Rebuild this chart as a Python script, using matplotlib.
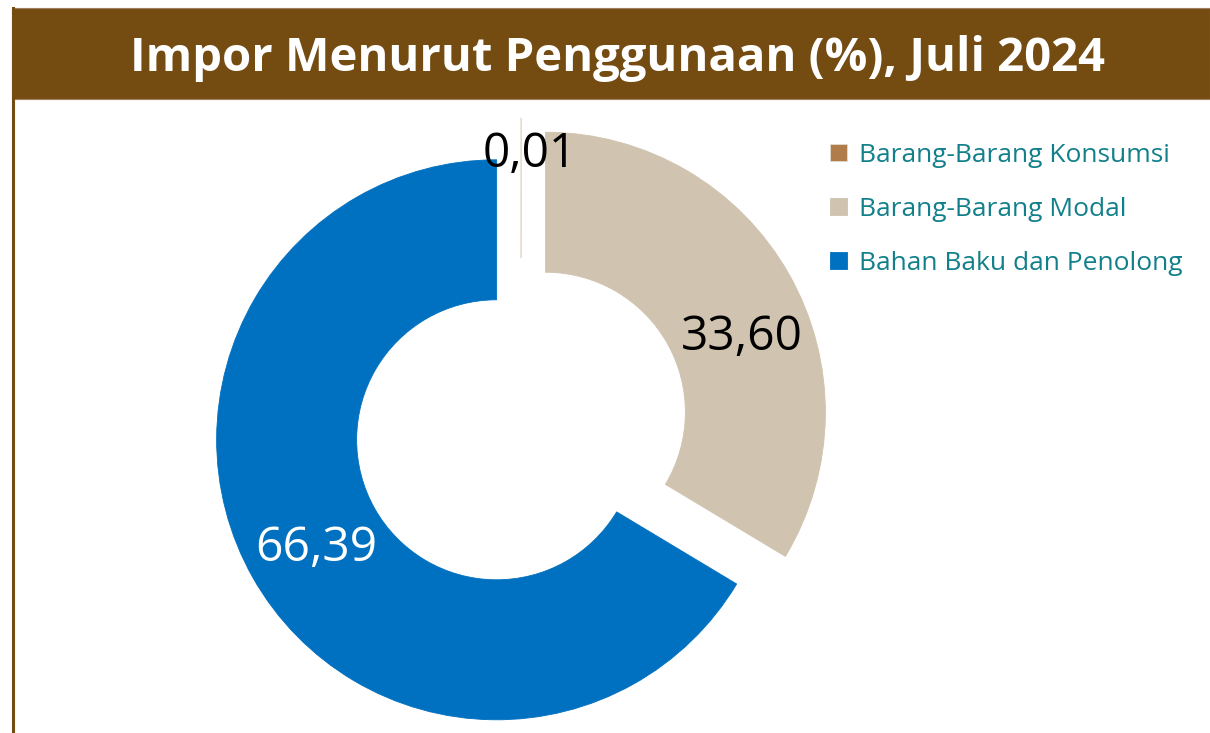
import numpy as np
import matplotlib
matplotlib.use("Agg")
import matplotlib.pyplot as plt
from matplotlib.patches import Rectangle

# data
categories = ["Barang-Barang Konsumsi", "Barang-Barang Modal", "Bahan Baku dan Penolong"]
shares = [0.01, 33.60, 66.39]
share_labels = ["0,01", "33,60", "66,39"]
colors = ["#b07c4a", "#d0c3af", "#0070c0"]
label_colors = ["black", "black", "white"]
title = "Impor Menurut Penggunaan (%), Juli 2024"

W, H = 1210, 733
plt.rcParams["font.family"] = ["Open Sans", "DejaVu Sans"]
fig = plt.figure(figsize=(W / 100, H / 100), dpi=100)
ax = fig.add_axes([0, 0, 1, 1])

# header bar + left border line
brown = "#744c12"
ax.add_patch(Rectangle((12, H - 99), W - 12, 91, facecolor=brown,
                       edgecolor="#a08060", linewidth=0.8, zorder=1))
ax.plot([13, 13], [0, H - 8], color=brown, linewidth=2.2, zorder=1)
ax.text(617, H - 59, title, color="white", fontsize=34, fontweight="bold",
        ha="center", va="center", zorder=2)

# donut
R = 280
cx, cy = 521, H - 426
wedges, _ = ax.pie(shares, colors=colors, startangle=90, counterclock=False,
                   radius=R, center=(cx, cy), explode=[R * 0.1] * 3,
                   wedgeprops=dict(width=R * 0.5, linewidth=0.6),
                   frame=True)
wedges[0].set_edgecolor("#e6dccd")
for w in wedges[1:]:
    w.set_edgecolor(w.get_facecolor())
ax.set_xlim(0, W)
ax.set_ylim(0, H)
ax.set_aspect("equal")
ax.set_axis_off()

# data labels
label_r = [0.87, 0.75, 0.75]
angle_shift = [-2, -8.5, 1.5]
for w, txt, col, lr, sh in zip(wedges, share_labels, label_colors, label_r, angle_shift):
    mid = np.deg2rad((w.theta1 + w.theta2) / 2 + sh)
    x0, y0 = w.center
    ax.text(x0 + lr * R * np.cos(mid), y0 + lr * R * np.sin(mid), txt,
            color=col, fontsize=34.5, ha="center", va="center", zorder=3)

leg = ax.legend(wedges, categories, loc="upper left",
                bbox_to_anchor=(806 / W, 1 - 119 / H), bbox_transform=fig.transFigure,
                frameon=False, fontsize=19, handlelength=0.65, handleheight=0.65,
                handletextpad=0.45, labelspacing=1.1)
for t in leg.get_texts():
    t.set_color("#12808a")

fig.savefig("out.png", dpi=100, facecolor="white")
